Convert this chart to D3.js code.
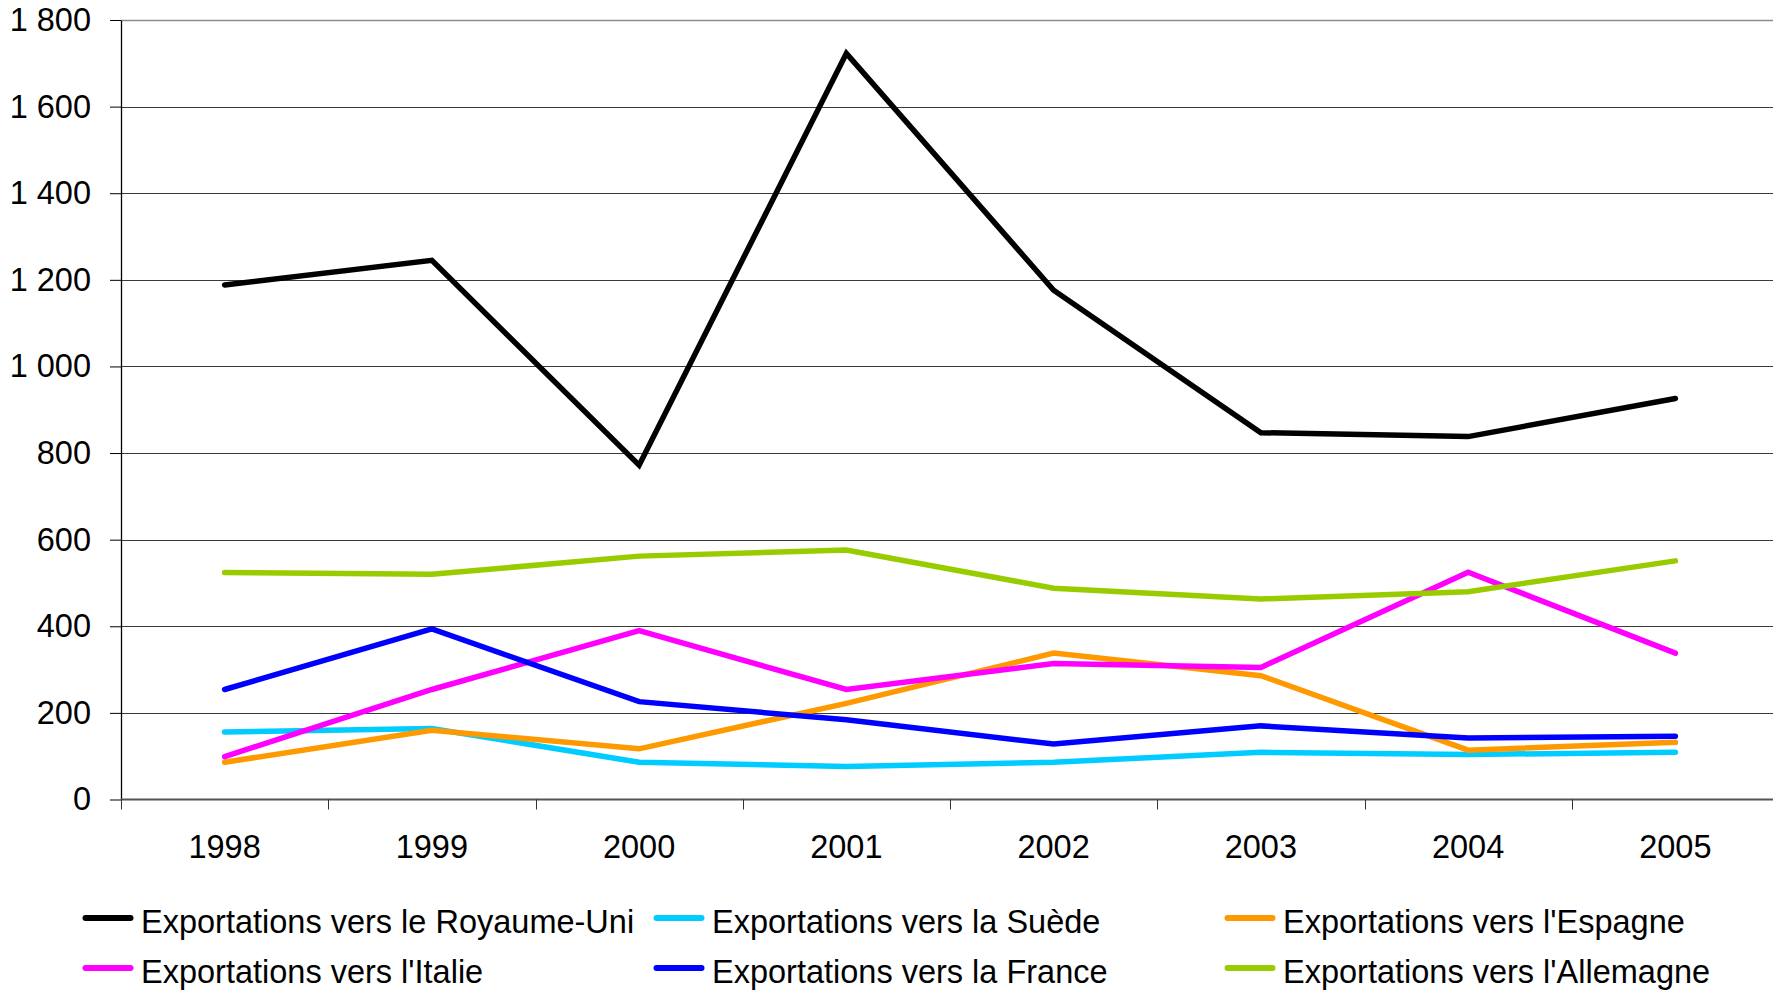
<!DOCTYPE html>
<html>
<head>
<meta charset="utf-8">
<script src="https://cdn.jsdelivr.net/npm/d3@7"></script>
<style>
  html, body { margin: 0; padding: 0; background: #fff; }
  svg { display: block; }
  text { font-family: "Liberation Sans", Arial, sans-serif; fill: #000; }
</style>
</head>
<body>
<svg id="chart" width="1773" height="992"></svg>
<script>
const years = ["1998", "1999", "2000", "2001", "2002", "2003", "2004", "2005"];
const yTicks = [0, 200, 400, 600, 800, 1000, 1200, 1400, 1600, 1800];

const seriesNames = [
  "Exportations vers le Royaume-Uni",
  "Exportations vers la Suède",
  "Exportations vers l'Espagne",
  "Exportations vers l'Italie",
  "Exportations vers la France",
  "Exportations vers l'Allemagne"
];
const royaumeUni = [1188, 1245, 772, 1723, 1176, 847, 838, 926];
const suede      = [156, 164, 86, 76, 86, 109, 104, 109];
const espagne    = [86, 160, 117, 222, 338, 286, 114, 132];
const italie     = [99, 254, 390, 254, 314, 305, 525, 338];
const france     = [254, 394, 226, 184, 128, 170, 142, 146];
const allemagne  = [524, 520, 562, 576, 488, 463, 480, 551];
const seriesColors = ["#000000", "#00CCFF", "#FF9900", "#FF00FF", "#0000FF", "#99CC00"];

const seriesValues = [royaumeUni, suede, espagne, italie, france, allemagne];
const series = seriesNames.map((name, i) => ({ name, color: seriesColors[i], values: seriesValues[i] }));

(function draw() {
const svg = d3.select("#chart");
const pLeft = 121, pRight = 1779, pTop = 20, pBottom = 799.5;
const fs = 32.5;

const x = d3.scaleBand().domain(years).range([pLeft, pRight]).paddingInner(0).paddingOuter(0);
const y = d3.scaleLinear().domain([0, 1800]).range([pBottom, pTop]);
const cx = d => x(d) + x.bandwidth() / 2;

const locale = d3.formatLocale({ decimal: ",", thousands: " ", grouping: [3], currency: ["", " €"] });
const fmt = locale.format(",d");

// gridlines
svg.append("g")
  .selectAll("line")
  .data(yTicks.filter(d => d > 0))
  .join("line")
  .attr("x1", pLeft).attr("x2", 1773)
  .attr("y1", d => Math.round(y(d)) + 0.5).attr("y2", d => Math.round(y(d)) + 0.5)
  .attr("stroke", d => d === 1800 ? "#8c8c8c" : "#3a3a3a")
  .attr("stroke-width", d => d === 1800 ? 1.5 : 1);

// y axis
const yAxis = svg.append("g")
  .attr("transform", `translate(${pLeft},0)`)
  .call(d3.axisLeft(y).tickValues(yTicks).tickFormat(fmt).tickSizeInner(11).tickSizeOuter(0).tickPadding(19));
yAxis.select(".domain").attr("stroke", "#000").attr("stroke-width", 1.3);
yAxis.selectAll(".tick line").attr("stroke", "#000");
yAxis.selectAll(".tick text").attr("font-size", fs).attr("fill", "#000")
  .style("font-family", '"Liberation Sans", Arial, sans-serif');

// x axis
const xAxisG = svg.append("g").attr("transform", `translate(0,${pBottom})`);
xAxisG.append("line")
  .attr("x1", pLeft).attr("x2", 1773).attr("y1", 0).attr("y2", 0)
  .attr("stroke", "#555").attr("stroke-width", 2);
const boundaries = years.map(d => x(d));
xAxisG.selectAll("line.tk")
  .data(boundaries)
  .join("line").attr("class", "tk")
  .attr("x1", d => Math.round(d) + 0.5).attr("x2", d => Math.round(d) + 0.5)
  .attr("y1", 0).attr("y2", 10)
  .attr("stroke", "#333").attr("stroke-width", 1);
xAxisG.selectAll("text")
  .data(years)
  .join("text")
  .attr("x", d => cx(d))
  .attr("y", 58.5)
  .attr("text-anchor", "middle")
  .attr("font-size", fs)
  .text(d => d);

// lines
const line = d3.line().x((d, i) => cx(years[i])).y(d => y(d));
svg.append("g")
  .selectAll("path")
  .data(series)
  .join("path")
  .attr("d", s => line(s.values))
  .attr("fill", "none")
  .attr("stroke", s => s.color)
  .attr("stroke-width", 5.5)
  .attr("stroke-linecap", "round")
  .attr("stroke-linejoin", "miter");

// legend
const colX = [82.5, 653.5, 1224.5];
const rowY = [933, 983];
const legend = svg.append("g");
series.forEach((s, i) => {
  const col = i % 3, row = Math.floor(i / 3);
  const g = legend.append("g").attr("transform", `translate(${colX[col]},${rowY[row]})`);
  g.append("line")
    .attr("x1", 3).attr("x2", 48).attr("y1", -15).attr("y2", -15)
    .attr("stroke", s.color).attr("stroke-width", 6).attr("stroke-linecap", "round");
  g.append("text").attr("x", 58.5).attr("y", 0).attr("font-size", fs).text(s.name);
});
})();
</script>
</body>
</html>
